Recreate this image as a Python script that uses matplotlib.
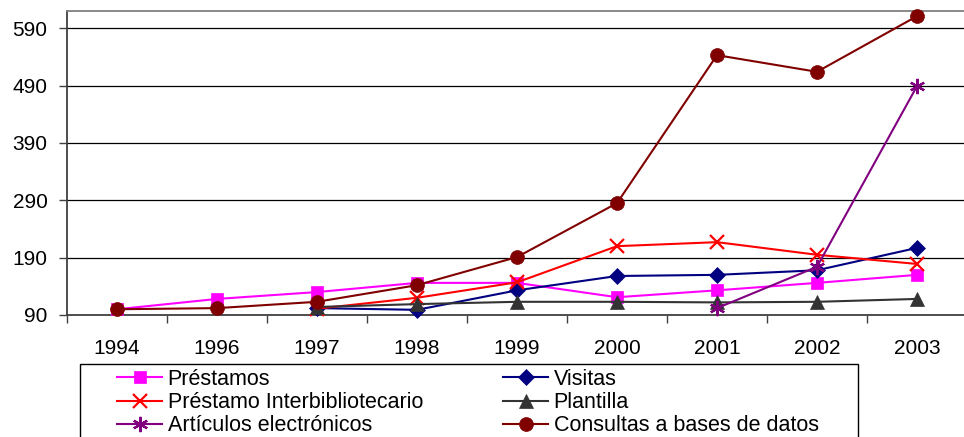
import numpy as np
import matplotlib
matplotlib.use("Agg")
import matplotlib.pyplot as plt
from matplotlib.patches import Rectangle

plt.rcParams['font.family'] = ['Liberation Sans', 'DejaVu Sans']

years = ["1994", "1996", "1997", "1998", "1999", "2000", "2001", "2002", "2003"]
prestamos = [100, 118, 130, 146, 146, 121, 133, 146, 160]
visitas = [np.nan, np.nan, 102, 99, 133, 158, 160, 168, 207]
interbib = [np.nan, np.nan, 101, 120, 147, 210, 217, 195, 179]
plantilla = [np.nan, np.nan, 104, 109, 113, 113, 112, 113, 118]
articulos = [np.nan, np.nan, np.nan, np.nan, np.nan, np.nan, 102, 174, 489]
consultas = [100, 102, 113, 142, 191, 285, 543, 514, 611]
yticks = [90, 190, 290, 390, 490, 590]

fig = plt.figure(figsize=(9.64, 4.37), dpi=100)
ax = fig.add_axes([67/964, 1-315/437, 900/964, 304/437])
x = np.arange(len(years))

series = [
    ("Préstamos", prestamos, "#FF00FF", "s", 9),
    ("Visitas", visitas, "#000080", "D", 8),
    ("Préstamo Interbibliotecario", interbib, "#FF0000", "x", 10),
    ("Plantilla", plantilla, "#333333", "^", 10),
    ("Artículos electrónicos", articulos, "#800080", (6, 2, 0), 11),
    ("Consultas a bases de datos", consultas, "#800000", "o", 10),
]
handles = {}
for i, (lab, vals, col, mk, ms) in enumerate(series):
    h, = ax.plot(x, vals, color=col, marker=mk, markersize=ms, lw=1.5,
                 markeredgecolor=col, markerfacecolor=col,
                 markeredgewidth=1.6 if mk in ("x", (6, 2, 0)) else 0.5,
                 label=lab, zorder=3 + i, clip_on=False)
    handles[lab] = h

ax.set_xlim(-0.5, 8.5)
ax.set_ylim(90, 620)
ax.set_yticks(yticks)
ax.set_yticklabels([str(v) for v in yticks])
ax.set_xticks(x)
ax.set_xticklabels(years)
ax.set_xticks(np.arange(-0.5, 9.0, 1.0), minor=True)
ax.tick_params(axis='x', which='major', length=0, pad=17, labelsize=15)
ax.tick_params(axis='x', which='minor', length=6, width=1, color="#404040", direction='out')
ax.tick_params(axis='y', length=6, width=1, color="#404040", pad=8, labelsize=15)

for v in yticks[1:]:
    ax.axhline(v, color="black", lw=0.9, zorder=1)

ax.spines['left'].set_color("#404040")
ax.spines['left'].set_linewidth(1.3)
ax.spines['bottom'].set_color("#404040")
ax.spines['bottom'].set_linewidth(1.3)
ax.spines['top'].set_color("#808080")
ax.spines['top'].set_linewidth(1.3)
ax.spines['right'].set_visible(False)

order = ["Préstamos", "Préstamo Interbibliotecario", "Artículos electrónicos",
         "Visitas", "Plantilla", "Consultas a bases de datos"]
leg = fig.legend([handles[k] for k in order], order, ncol=2,
                 loc='upper left', bbox_to_anchor=(117/964, 1-369/437),
                 frameon=False, fontsize=15.5, handlelength=2.1, handletextpad=0.25,
                 labelspacing=0.1, columnspacing=3.72, borderpad=0, borderaxespad=0)

rect = Rectangle((80/964, 1-450/437), (858-80)/964, (450-364)/437,
                 transform=fig.transFigure, fill=False, edgecolor="black",
                 lw=1, clip_on=False)
fig.patches.append(rect)

fig.savefig("out.png", dpi=100)
